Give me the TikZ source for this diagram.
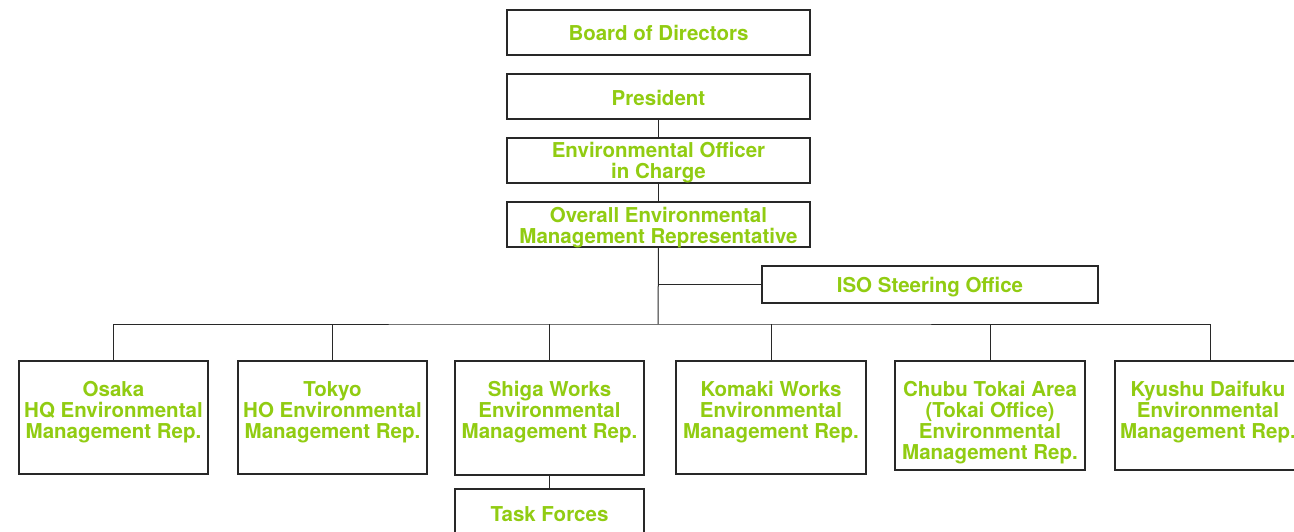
\documentclass[tikz,border=0pt]{standalone}
\usepackage{fontspec}
\newfontfamily\heros{TeX Gyre Heros}
\definecolor{lgreen}{RGB}{145,204,18}
\definecolor{lineC}{RGB}{40,40,40}
\begin{document}
\begin{tikzpicture}[x=1pt,y=-1pt,
  ebox/.style={draw=lineC, line width=1.4pt, fill=white, inner sep=0pt, outer sep=0pt, minimum width=189pt, minimum height=113pt},
  tbox/.style={ebox, minimum width=303pt, minimum height=45pt},
  lbl/.style={inner sep=0pt, align=center, text=lgreen, anchor=north,
    font=\heros\bfseries\fontsize{20.5}{21}\selectfont},
  clbl/.style={lbl, anchor=center},
  conn/.style={draw=lineC, line width=1pt}]
\useasboundingbox (0,0) rectangle (1294,531);

% top chain
\node[tbox] (board) at (658.5,32.5) {};
\node[tbox] (pres) at (658.5,96.5) {};
\node[tbox] (officer) at (658.5,160.5) {};
\node[tbox] (overall) at (658.5,224.5) {};
\node[tbox, minimum width=336pt, minimum height=37pt] (iso) at (930,284.5) {};

\node[clbl] (boardT) at ([yshift=-0.5pt]board.center) {Board of Directors};
\node[clbl] (presT) at ([yshift=-1.5pt]pres.center) {President};
\node[clbl] (officerT) at ([yshift=-2.5pt]officer.center) {Environmental Officer\\in Charge};
\node[clbl] (overallT) at ([yshift=-2.8pt]overall.center) {Overall Environmental\\Management Representative};
\node[clbl] (isoT) at ([yshift=-3pt]iso.center) {ISO Steering Office};

% bottom boxes
\node[ebox] (osaka) at (113.5,417.5) {};
\node[ebox] (tokyo) at (332.5,417.5) {};
\node[ebox, minimum height=114pt] (shiga) at (549.5,418) {};
\node[ebox, minimum width=190pt] (komaki) at (771,417.5) {};
\node[ebox, minimum width=190pt, minimum height=109pt] (chubu) at (990,415.5) {};
\node[ebox, minimum width=190pt, minimum height=109pt] (kyushu) at (1210,415.5) {};
\node[ebox, minimum height=45pt] (task) at (549.5,511.5) {};

\node[lbl] (osakaT) at ([yshift=-20pt]osaka.north) {Osaka\\HQ Environmental\\Management Rep.};
\node[lbl] (tokyoT) at ([yshift=-20pt]tokyo.north) {Tokyo\\HO Environmental\\Management Rep.};
\node[lbl] (shigaT) at ([yshift=-20pt]shiga.north) {Shiga Works\\Environmental\\Management Rep.};
\node[lbl] (komakiT) at ([yshift=-20pt]komaki.north) {Komaki Works\\Environmental\\Management Rep.};
\node[lbl] (chubuT) at ([yshift=-20pt]chubu.north) {Chubu Tokai Area\\(Tokai Office)\\Environmental\\Management Rep.};
\node[lbl] (kyushuT) at ([xshift=-2pt,yshift=-20pt]kyushu.north) {Kyushu Daifuku\\Environmental\\Management Rep.};
\node[clbl] (taskT) at ([yshift=-2.5pt]task.center) {Task Forces};

% connectors
\coordinate (bus) at (658,324);
\draw[conn] (pres.south) -- (officer.north);
\draw[conn] (officer.south) -- (overall.north);
\draw[conn] (overall.south) -- (bus);
\draw[conn] (overall.south |- iso.west) -- (iso.west);
\draw[conn] (osaka.north) |- (bus) -| (kyushu.north);
\draw[conn] (tokyo.north) -- (tokyo.north |- bus);
\draw[conn] (shiga.north) -- (shiga.north |- bus);
\draw[conn] (komaki.north) -- (komaki.north |- bus);
\draw[conn] (chubu.north) -- (chubu.north |- bus);
\draw[conn] (shiga.south) -- (task.north);
\end{tikzpicture}
\end{document}
